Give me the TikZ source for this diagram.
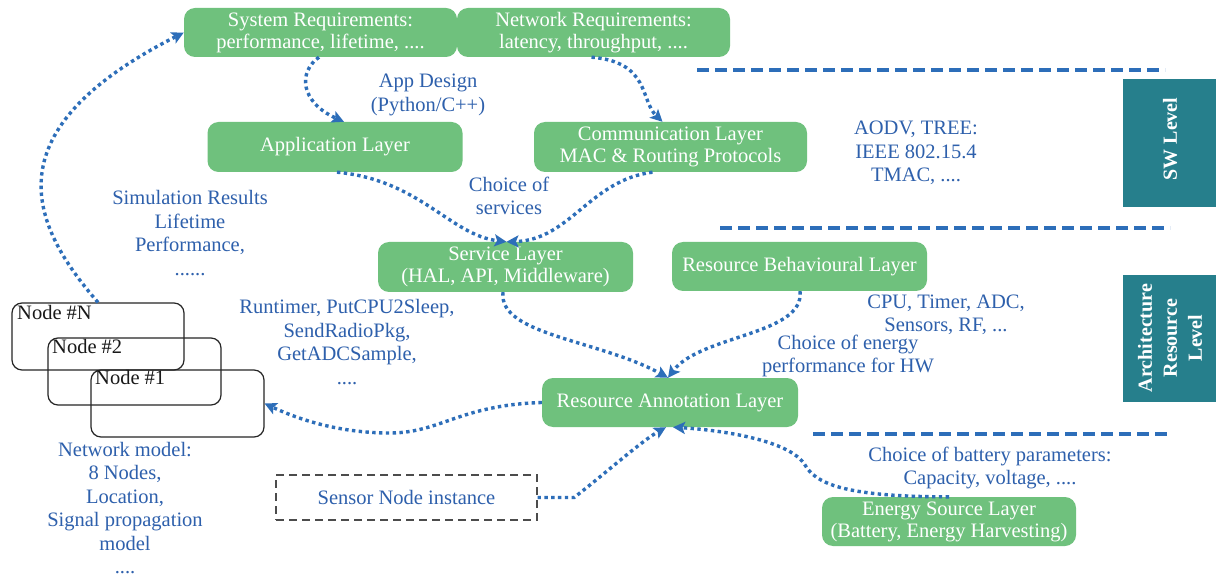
\documentclass[tikz,border=0pt]{standalone}
\usepackage{fontspec}
\setmainfont{Liberation Serif}
\usetikzlibrary{arrows.meta}
\definecolor{gfill}{RGB}{111,193,125}
\definecolor{tblue}{RGB}{46,96,172}
\definecolor{lblue}{RGB}{45,110,185}
\definecolor{tealbox}{RGB}{38,127,140}
\begin{document}
\begin{tikzpicture}[x=1pt,y=-1pt,
 gbox/.style={fill=gfill, draw=none, rounded corners=11pt, text=white, align=center, font=\fontsize{20.5}{22}\selectfont, inner sep=0pt},
 lbl/.style={text=tblue, align=center, font=\fontsize{20.5}{23.5}\selectfont, inner sep=0pt},
 nbox/.style={draw=black!85, line width=1.2pt, rounded corners=10pt, inner sep=0pt},
 ntext/.style={anchor=north west, inner sep=0pt, font=\fontsize{20.5}{22}\selectfont, text=black!90},
 conn/.style={draw=lblue, line width=3.4pt, dash pattern=on 3.4pt off 3.4pt, -{Stealth[length=12pt,width=12pt,inset=2.5pt]}},
 lvl/.style={draw=lblue, line width=4pt, dash pattern=on 12pt off 6pt},
 tbox/.style={fill=tealbox, draw=none, inner sep=0pt},
 ttext/.style={text=white, rotate=90, align=center, font=\bfseries\fontsize{20}{25}\selectfont, inner sep=0pt}
]
\useasboundingbox[fill=white] (0,0) rectangle (1218,577);

% level separators
\draw[lvl] (697,70) -- (1165,70);
\draw[lvl] (720,228) -- (1170,228);
\draw[lvl] (813,434) -- (1170,434);

% green boxes
\node[gbox, minimum width=273pt, minimum height=49pt] (sys) at (320.5,32.5) {System Requirements:\\performance, lifetime, ....};
\node[gbox, minimum width=273pt, minimum height=49pt] (net) at (593.5,32.5) {Network Requirements:\\latency, throughput, ....};
\node[gbox, minimum width=255pt, minimum height=50pt] (app) at (335,147) {Application Layer};
\node[gbox, minimum width=273pt, minimum height=50pt] (comm) at (670.5,147) {Communication Layer\\MAC \& Routing Protocols};
\node[gbox, minimum width=255pt, minimum height=50pt] (serv) at (505.5,267) {Service Layer\\(HAL, API, Middleware)};
\node[gbox, minimum width=255pt, minimum height=49pt] (rb) at (799.5,266.5) {Resource Behavioural Layer};
\node[gbox, minimum width=256pt, minimum height=49pt] (ann) at (670,402.5) {Resource Annotation Layer};
\node[gbox, minimum width=254pt, minimum height=49pt] (energy) at (949,521.5) {Energy Source Layer\\(Battery, Energy Harvesting)};

% sensor node instance
\node[draw=black!70, line width=1.1pt, dash pattern=on 8pt off 5pt, minimum width=261pt, minimum height=45pt, inner sep=0pt, text=tblue, font=\fontsize{20.5}{22}\selectfont] (sensor) at (406.5,497.5) {Sensor Node instance};

% node stack
\node[nbox, minimum width=172pt, minimum height=67pt] (nN) at (98,336.5) {};
\node[nbox, minimum width=173pt, minimum height=67pt] (n2) at (134.5,371.5) {};
\node[nbox, minimum width=173pt, minimum height=67pt] (n1) at (177.5,403.5) {};
\node[ntext] (tN) at (17,305) {Node \#N};
\node[ntext] (t2) at (52,339) {Node \#2};
\node[ntext] (t1) at (95,370) {Node \#1};

% teal level boxes
\node[tbox, minimum width=93pt, minimum height=128pt] (sw) at (1169.5,143) {};
\node[ttext] (swt) at (1170,139) {SW Level};
\node[tbox, minimum width=93pt, minimum height=127pt] (arch) at (1169.5,338.5) {};
\node[ttext] (archt) at (1170,338) {Architecture\\Resource\\Level};

% labels
\node[lbl] (appd) at (428,95) {App Design\\(Python/C++)};
\node[lbl] (aodv) at (916,153) {AODV, TREE:\\IEEE 802.15.4\\TMAC, ....};
\node[lbl] (simr) at (190,233) {Simulation Results\\Lifetime\\Performance,\\......};
\node[lbl] (chs) at (509,196) {Choice of\\services};
\node[lbl] (rt) at (347,342) {Runtimer, PutCPU2Sleep,\\SendRadioPkg,\\GetADCSample,\\....};
\node[lbl] (cpu) at (946,315) {CPU, Timer, ADC,\\Sensors, RF, ...};
\node[lbl] (che) at (848,356) {Choice of energy\\performance for HW};
\node[lbl] (bat) at (990,468) {Choice of battery parameters:\\Capacity, voltage, ....};
\node[lbl] (nm) at (125,508) {Network model:\\8 Nodes,\\Location,\\Signal propagation\\model\\....};

% connectors
\draw[conn] (nN.north) .. controls (28,222) and (-8,130) .. (sys.west);
\draw[conn] ([xshift=-1.5pt]sys.south) .. controls (298,72) and (300,102) .. ([xshift=9pt]app.north);
\draw[conn] ([xshift=-2pt]net.south) .. controls (650,62) and (640,100) .. ([xshift=-8pt]comm.north);
\draw[conn] ([xshift=2pt]app.south) .. controls (420,180) and (450,235) .. ([xshift=1pt]serv.north);
\draw[conn] ([xshift=-18pt]comm.south) .. controls (590,180) and (570,240) .. ([xshift=1pt]serv.north);
\draw[conn] ([xshift=-2.5pt]serv.south) .. controls (498,335) and (600,340) .. ([xshift=-2pt]ann.north);
\draw[conn] ([xshift=0.5pt]rb.south) .. controls (805,335) and (700,335) .. ([xshift=-2pt]ann.north);
\draw[conn] (ann.west) .. controls (460,405) and (440,433) .. (390,433) .. controls (340,433) and (300,420) .. (n1.east);
\draw[conn] (sensor.east) -- (574,497.5) .. controls (600,478) and (640,442) .. ([xshift=-4pt]ann.south);
\draw[conn] (energy.north) .. controls (840,497) and (815,482) .. (805,465) .. controls (790,440) and (720,430) .. ([xshift=3pt]ann.south);
\end{tikzpicture}
\end{document}
